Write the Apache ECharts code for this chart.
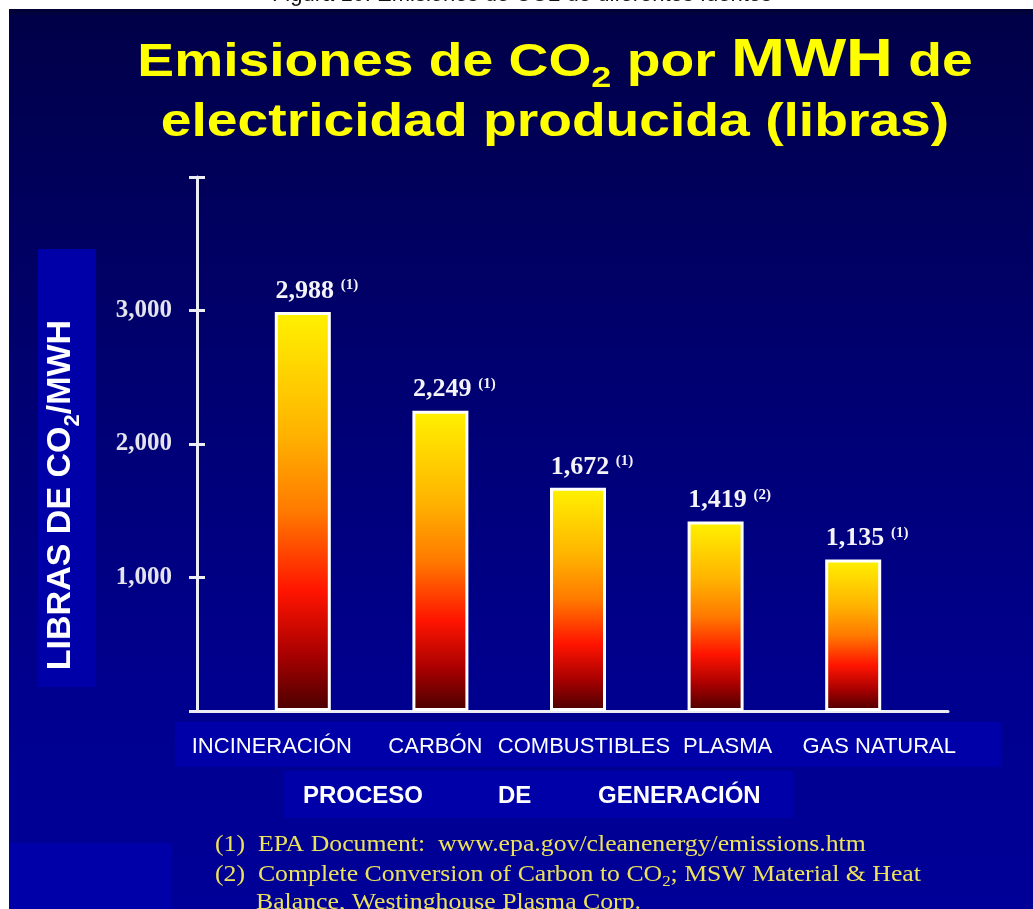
<!DOCTYPE html>
<html>
<head>
<meta charset="utf-8">
<script src="https://cdn.jsdelivr.net/npm/echarts@6/dist/echarts.min.js"></script>
<style>
  html, body { margin: 0; padding: 0; background: #fff; }
  #chart { width: 1033px; height: 909px; }
</style>
</head>
<body>
<div id="chart"></div>
<script>
// data
var categories = ['INCINERACIÓN', 'CARBÓN', 'COMBUSTIBLES', 'PLASMA', 'GAS NATURAL'];
var emissions = [2988, 2249, 1672, 1419, 1135];
var notes = ['(1)', '(1)', '(1)', '(2)', '(1)'];
var yTicks = [1000, 2000, 3000];

window.onload = function () {
  var chart = echarts.init(document.getElementById('chart'));

  var sans = 'Liberation Sans, Arial, sans-serif';
  var serif = 'Liberation Serif, Times New Roman, serif';
  var boxBlue = '#0000a8';
  var axisColor = '#ececf4';

  // shift of category labels (they sit in a separate text box in the original)
  var labelShift = [-31, -5, 6, 12, 26];
  var catData = categories.map(function (c, i) {
    var d = labelShift[i];
    return {
      value: c,
      textStyle: { padding: d > 0 ? [0, 0, 0, 2 * d] : [0, -2 * d, 0, 0] }
    };
  });

  var barFill = new echarts.graphic.LinearGradient(0, 0, 0, 1, [
    { offset: 0, color: '#fff200' },
    { offset: 0.3, color: '#ffb400' },
    { offset: 0.5, color: '#ff7a00' },
    { offset: 0.7, color: '#ff1400' },
    { offset: 0.86, color: '#a80000' },
    { offset: 1, color: '#4a0000' }
  ]);

  var option = {
    backgroundColor: '#ffffff',
    animation: false,
    graphic: [
      // slide background
      {
        type: 'rect', z: -20, silent: true,
        shape: { x: 9, y: 9, width: 1024, height: 900 },
        style: {
          fill: new echarts.graphic.LinearGradient(0, 0, 0, 1, [
            { offset: 0, color: '#000030' },
            { offset: 0.008, color: '#000048' },
            { offset: 0.4, color: '#000070' },
            { offset: 0.75, color: '#00008e' },
            { offset: 1, color: '#000098' }
          ])
        }
      },
      { type: 'rect', z: -10, silent: true, shape: { x: 38, y: 249, width: 58, height: 438 }, style: { fill: boxBlue } },
      { type: 'rect', z: -10, silent: true, shape: { x: 175, y: 722, width: 827, height: 45 }, style: { fill: boxBlue } },
      { type: 'rect', z: -10, silent: true, shape: { x: 284, y: 771, width: 509, height: 47 }, style: { fill: boxBlue } },
      { type: 'rect', z: -10, silent: true, shape: { x: 9, y: 843, width: 163, height: 66 }, style: { fill: boxBlue } },
      // caption above the slide
      {
        type: 'text', z: -30, x: 522, y: 6,
        style: {
          text: 'Figura 10. Emisiones de CO2 de diferentes fuentes',
          fill: '#111', font: '22px ' + sans,
          textAlign: 'center', textVerticalAlign: 'bottom'
        }
      },
      // title
      {
        type: 'text', x: 555, y: 34, scaleX: 1.2,
        style: {
          text: '{a|Emisiones de CO}{s|2}{a| por }{b|MWH}{a| de}\n{a|electricidad producida (libras)}',
          textAlign: 'center', textVerticalAlign: 'top',
          rich: {
            a: { fill: '#ffff00', font: 'bold 46px ' + sans, lineHeight: 60, verticalAlign: 'bottom', padding: [0, 0, 8, 0] },
            s: { fill: '#ffff00', font: 'bold 30px ' + sans, lineHeight: 30, verticalAlign: 'bottom' },
            b: { fill: '#ffff00', font: 'bold 54px ' + sans, lineHeight: 60, verticalAlign: 'bottom', padding: [0, 0, 6, 0] }
          }
        }
      },
      // y-axis title
      {
        type: 'text', x: 66, y: 495, rotation: Math.PI / 2,
        style: {
          text: '{a|LIBRAS DE CO}{s|2}{a|/MWH}',
          textAlign: 'center', textVerticalAlign: 'middle',
          rich: {
            a: { fill: '#ffffff', font: 'bold 34px ' + sans, lineHeight: 36, verticalAlign: 'bottom', padding: [0, 0, 6, 0] },
            s: { fill: '#ffffff', font: 'bold 22px ' + sans, lineHeight: 22, verticalAlign: 'bottom' }
          }
        }
      },
      // x-axis title
      { type: 'text', x: 303, y: 796, style: { text: 'PROCESO', fill: '#fff', font: 'bold 24px ' + sans, textVerticalAlign: 'middle' } },
      { type: 'text', x: 498, y: 796, style: { text: 'DE', fill: '#fff', font: 'bold 24px ' + sans, textVerticalAlign: 'middle' } },
      { type: 'text', x: 598, y: 796, style: { text: 'GENERACIÓN', fill: '#fff', font: 'bold 24px ' + sans, textVerticalAlign: 'middle' } },
      // footnotes
      {
        type: 'text', x: 215, y: 833, scaleX: 1.12,
        style: {
          text: '(1)  EPA Document:  www.epa.gov/cleanenergy/emissions.htm',
          fill: '#ece25a', font: '23px ' + serif, textVerticalAlign: 'top'
        }
      },
      {
        type: 'text', x: 215, y: 864, scaleX: 1.12,
        style: {
          text: '{t|(2)  Complete Conversion of Carbon to CO}{s|2}{t|; MSW Material & Heat}',
          textVerticalAlign: 'top',
          rich: {
            t: { fill: '#ece25a', font: '23px ' + serif, verticalAlign: 'bottom', lineHeight: 26, padding: [0, 0, 4, 0] },
            s: { fill: '#ece25a', font: '15px ' + serif, verticalAlign: 'bottom', lineHeight: 16 }
          }
        }
      },
      {
        type: 'text', x: 256, y: 891, scaleX: 1.12,
        style: {
          text: 'Balance, Westinghouse Plasma Corp.',
          fill: '#ece25a', font: '23px ' + serif, textVerticalAlign: 'top'
        }
      }
    ],
    grid: [
      { left: 234, right: 111, top: 177, bottom: 198 },
      { left: 197, right: 85, top: 177, bottom: 198 }
    ],
    xAxis: [
      {
        type: 'category', gridIndex: 0, data: catData,
        axisLine: { show: false }, axisTick: { show: false },
        axisLabel: { color: '#ffffff', fontFamily: sans, fontSize: 22, margin: 25, interval: 0 }
      },
      {
        type: 'value', gridIndex: 1, min: 0, max: 1,
        axisLine: { show: true, lineStyle: { color: axisColor, width: 3 } },
        axisTick: { show: false }, axisLabel: { show: false }, splitLine: { show: false }
      }
    ],
    yAxis: [
      { type: 'value', gridIndex: 0, min: 0, max: 4000, show: false },
      {
        type: 'value', gridIndex: 1, position: 'left', min: 0, max: 4000, interval: 1000,
        axisLine: { show: true, lineStyle: { color: axisColor, width: 3 } },
        axisTick: { show: true, length: 8, lineStyle: { color: axisColor, width: 3 } },
        splitLine: { show: false },
        axisLabel: {
          color: '#e4e4ee', fontFamily: serif, fontWeight: 'bold', fontSize: 25, margin: 25,
          formatter: function (v) {
            return yTicks.indexOf(v) >= 0 ? v.toLocaleString('en-US') : '';
          }
        }
      },
      {
        type: 'value', gridIndex: 1, position: 'left', min: 0, max: 4000, interval: 1000,
        axisLine: { show: false },
        axisTick: { show: true, inside: true, length: 8, lineStyle: { color: axisColor, width: 3 } },
        axisLabel: { show: false }, splitLine: { show: false }
      }
    ],
    series: [{
      type: 'bar',
      xAxisIndex: 0, yAxisIndex: 0,
      barWidth: 56,
      data: emissions,
      itemStyle: { color: barFill, borderColor: '#ffffff', borderWidth: 3 },
      label: {
        show: true, position: 'top', distance: 8, offset: [14, 0],
        formatter: function (p) {
          return '{v|' + p.value.toLocaleString('en-US') + '}  {n|' + notes[p.dataIndex] + '}';
        },
        rich: {
          v: { color: '#f4f4f8', fontFamily: serif, fontWeight: 'bold', fontSize: 26, lineHeight: 28, verticalAlign: 'bottom' },
          n: { color: '#f4f4f8', fontFamily: serif, fontWeight: 'bold', fontSize: 15, lineHeight: 15, verticalAlign: 'bottom', padding: [0, 0, 11, 0] }
        }
      }
    }]
  };

  chart.setOption(option);
};
</script>
</body>
</html>
